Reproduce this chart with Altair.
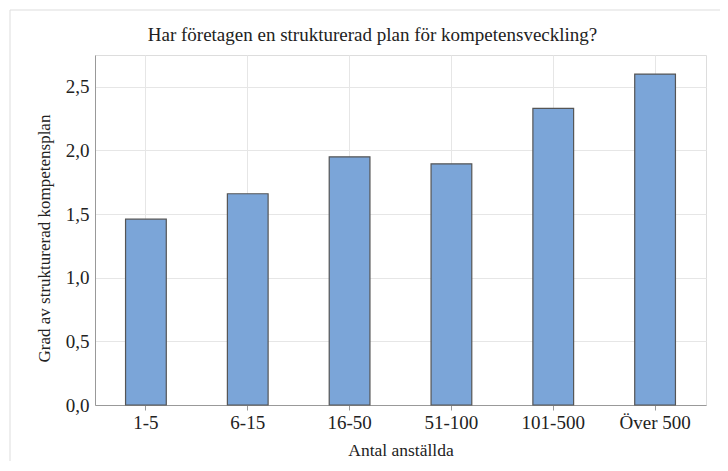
import altair as alt
import pandas as pd

categories = ["1-5", "6-15", "16-50", "51-100", "101-500", "Över 500"]
values = [1.46, 1.66, 1.95, 1.895, 2.33, 2.60]

df = pd.DataFrame({"Antal anställda": categories, "Grad": values})

FONT = "Liberation Serif"

bars = alt.Chart(df).mark_bar(
    color="#7BA5D8", stroke="#555555", strokeWidth=1.2
).encode(
    x=alt.X(
        "Antal anställda:N",
        sort=categories,
        scale=alt.Scale(paddingInner=0.6, paddingOuter=0.3),
        axis=alt.Axis(
            title="Antal anställda", labelAngle=0, grid=True,
            gridColor="#e6e6e6", tickColor="#999999", tickSize=5,
            domainColor="#999999", labelFontSize=19, titleFontSize=17.5,
            labelColor="#222222", titleColor="#222222", labelPadding=3,
            titlePadding=9, titleFontWeight="normal", labelFont=FONT, titleFont=FONT,
        ),
    ),
    y=alt.Y(
        "Grad:Q",
        scale=alt.Scale(domain=[0, 2.75], nice=False),
        axis=alt.Axis(
            title="Grad av strukturerad kompetensplan", values=[0, 0.5, 1, 1.5, 2, 2.5],
            labelExpr="replace(format(datum.value, '.1f'), '.', ',')",
            gridColor="#e6e6e6", ticks=False, domainColor="#999999",
            labelFontSize=19, titleFontSize=17, labelColor="#222222",
            titleColor="#222222", labelPadding=6, titlePadding=12,
            titleY=183,
            titleFontWeight="normal", labelFont=FONT, titleFont=FONT,
        ),
    ),
)

frame_df = pd.DataFrame({"k": [0]})
frame_top = alt.Chart(frame_df).mark_rule(color="#dddddd", strokeWidth=1).encode(
    x=alt.value(-85), x2=alt.value(640), y=alt.value(-45)
)
frame_left = alt.Chart(frame_df).mark_rule(color="#dddddd", strokeWidth=1).encode(
    x=alt.value(-85), y=alt.value(-45), y2=alt.value(420)
)

chart = alt.layer(frame_top, frame_left, bars).properties(
    width=611,
    height=350,
    title=alt.TitleParams(
        "Har företagen en strukturerad plan för kompetensveckling?",
        font=FONT, fontSize=19, fontWeight="normal", color="#222222",
        anchor="middle", dx=-28, offset=-35,
    ),
    autosize=alt.AutoSizeParams(type="none"),
    padding={"left": 87, "top": 47, "right": 14, "bottom": 56},
).configure_view(stroke="#999999", strokeWidth=1).configure(background="white")

chart.save("out.html", embed_options={"renderer": "svg", "actions": False})
